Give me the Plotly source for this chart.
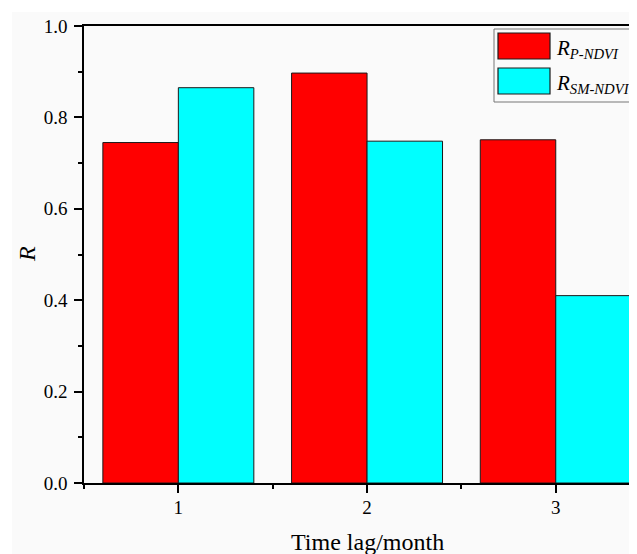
import plotly.graph_objects as go

lags = [1, 2, 3]
r_p_ndvi = [0.745, 0.897, 0.751]
r_sm_ndvi = [0.865, 0.748, 0.410]
y_ticks = [0.0, 0.2, 0.4, 0.6, 0.8, 1.0]

FONT = "Liberation Serif"
BG = "#fafafa"

# the html page has an 8px body margin; figure sized to fit the visible viewport
OFF = 8
W, H = 621, 546
ML, MR, MT = 76, 0, 18
PLOT_BOTTOM = 475
MB = H - PLOT_BOTTOM
PW, PH = W - ML - MR, PLOT_BOTTOM - MT
CAT_PX = 188.7  # pixels per category step in the reference


def px_x(p):
    """page pixel x -> paper x"""
    return (p - OFF - ML) / PW


def px_y(p):
    """page pixel y -> paper y"""
    return (PLOT_BOTTOM - (p - OFF)) / PH


fig = go.Figure()
fig.add_trace(go.Bar(x=lags, y=r_p_ndvi, name="R_P-NDVI",
                     marker=dict(color="#ff0000", line=dict(color="#1a1a1a", width=1)),
                     showlegend=False))
fig.add_trace(go.Bar(x=lags, y=r_sm_ndvi, name="R_SM-NDVI",
                     marker=dict(color="#00ffff", line=dict(color="#1a1a1a", width=1)),
                     showlegend=False))

shapes = [
    # white outer strips (top and left)
    dict(type="rect", xref="paper", yref="paper", x0=px_x(0), x1=px_x(700),
         y0=px_y(12), y1=px_y(-5), fillcolor="white", line=dict(width=0), layer="below"),
    dict(type="rect", xref="paper", yref="paper", x0=px_x(-5), x1=px_x(12),
         y0=px_y(700), y1=px_y(-5), fillcolor="white", line=dict(width=0), layer="below"),
    # legend box
    dict(type="rect", xref="paper", yref="paper", x0=px_x(494), x1=px_x(660),
         y0=px_y(102), y1=px_y(29), fillcolor=BG, line=dict(color="#777777", width=1)),
    dict(type="rect", xref="paper", yref="paper", x0=px_x(498), x1=px_x(550),
         y0=px_y(59), y1=px_y(33), fillcolor="#ff0000", line=dict(color="#1a1a1a", width=1.2)),
    dict(type="rect", xref="paper", yref="paper", x0=px_x(498), x1=px_x(550),
         y0=px_y(94), y1=px_y(68), fillcolor="#00ffff", line=dict(color="#1a1a1a", width=1.2)),
]

annotations = [
    dict(text="<i>R<sub>P-NDVI</sub></i>", xref="paper", yref="paper",
         x=px_x(554), y=px_y(49), xanchor="left", yanchor="middle", showarrow=False,
         font=dict(family=FONT, size=21, color="black")),
    dict(text="<i>R<sub>SM-NDVI</sub></i>", xref="paper", yref="paper",
         x=px_x(554), y=px_y(84), xanchor="left", yanchor="middle", showarrow=False,
         font=dict(family=FONT, size=21, color="black")),
    dict(text="Time lag/month", xref="x", yref="paper", x=2, y=px_y(542),
         xanchor="center", yanchor="middle", showarrow=False,
         font=dict(family=FONT, size=24, color="black")),
    dict(text="<i>R</i>", xref="paper", yref="paper", x=px_x(27), y=px_y(254),
         xanchor="center", yanchor="middle", showarrow=False, textangle=-90,
         font=dict(family=FONT, size=24, color="black")),
]

fig.update_layout(
    width=W, height=H,
    margin=dict(l=ML, r=MR, t=MT, b=MB, pad=0),
    paper_bgcolor=BG, plot_bgcolor=BG,
    barmode="group", bargap=0.2, bargroupgap=0,
    font=dict(family=FONT, size=19, color="black"),
    shapes=shapes, annotations=annotations,
    showlegend=False,
)
fig.update_xaxes(
    range=[0.5, 0.5 + PW / CAT_PX], tickvals=lags, ticktext=[str(v) for v in lags],
    showgrid=False, zeroline=False,
    showline=True, linecolor="black", linewidth=1.5, mirror=True,
    ticks="outside", ticklen=8, tickwidth=1.5, tickcolor="black",
    ticklabelstandoff=-2,
    minor=dict(dtick=0.5, tick0=0.5, ticks="outside", ticklen=4, tickwidth=1.5,
               tickcolor="black", showgrid=False),
    tickfont=dict(family=FONT, size=19, color="black"),
)
fig.update_yaxes(
    range=[0, 1], tickvals=y_ticks, tickformat=".1f",
    showgrid=False, zeroline=False,
    showline=True, linecolor="black", linewidth=1.5, mirror=False,
    ticks="outside", ticklen=8, tickwidth=1.5, tickcolor="black",
    ticklabelstandoff=3,
    minor=dict(dtick=0.1, tick0=0, ticks="outside", ticklen=4, tickwidth=1.5,
               tickcolor="black", showgrid=False),
    tickfont=dict(family=FONT, size=19, color="black"),
)

fig.write_html("out.html")
